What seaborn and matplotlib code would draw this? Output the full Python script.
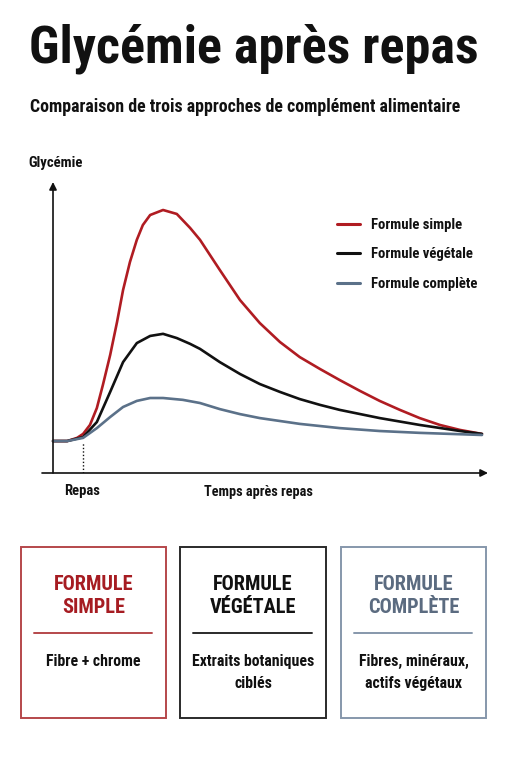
import numpy as np
import pandas as pd
import matplotlib
matplotlib.use("Agg")
import matplotlib.pyplot as plt
from matplotlib import font_manager
from matplotlib.lines import Line2D
from matplotlib.patches import Rectangle
import seaborn as sns

# --- data (arbitrary units, red peak = 100) ---
t_simple = [0, 3.3, 5.6, 7, 8.6, 10.2, 11.6, 13.3, 14.9, 16.3, 17.9, 19.5, 20.9, 22.6, 25.6,
            28.8, 31.9, 34.2, 38.8, 43.5, 48.1, 52.8, 57.4, 62.1, 66.7, 71.4, 76, 80.7, 85.3,
            90, 94.7, 99.8]
g_simple = [12.1, 12.1, 13.3, 14.8, 18.2, 24.6, 33.3, 44.7, 57.2, 69.3, 79.9, 88.3, 93.9, 97.7, 99.6,
            98.1, 92.8, 88.3, 76.9, 65.5, 56.8, 49.6, 43.9, 39.4, 35.2, 31.1, 27.3, 23.9, 20.8,
            18.2, 16.3, 14.8]

t_vegetale = [0, 3.3, 7, 10.2, 13.3, 16.3, 19.5, 22.6, 25.6, 28.8, 31.9, 34.2, 38.8, 43.5,
              48.1, 52.8, 57.4, 62.1, 66.7, 76, 85.3, 94.7, 99.8]
g_vegetale = [12.1, 12.1, 13.6, 19.3, 30.7, 42, 49.2, 51.9, 52.7, 51.1, 48.9, 47, 42, 37.5,
              33.7, 30.7, 28, 25.8, 23.9, 20.8, 18.2, 15.9, 14.8]

t_complete = [0, 3.3, 7, 10.2, 13.3, 16.3, 19.5, 22.6, 25.6, 30.2, 34.2, 38.8, 43.5,
              48.1, 57.4, 66.7, 76, 85.3, 99.8]
g_complete = [12.1, 12.1, 13.3, 17, 21.2, 25, 27.3, 28.4, 28.4, 27.7, 26.5, 24.2, 22.3,
              20.8, 18.6, 17, 15.9, 15.2, 14.4]

series = ["Formule simple", "Formule végétale", "Formule complète"]
colors = ["#b01c22", "#111111", "#5b7189"]
box_colors = ["#b5474b", "#2a2a2a", "#8697ab"]
box_titles = ["FORMULE\nSIMPLE", "FORMULE\nVÉGÉTALE", "FORMULE\nCOMPLÈTE"]
box_bodies = ["Fibre + chrome", "Extraits botaniques\nciblés", "Fibres, minéraux,\nactifs végétaux"]
repas_t = 7

df = pd.concat([
    pd.DataFrame({"t": t_simple, "g": g_simple, "formule": series[0]}),
    pd.DataFrame({"t": t_vegetale, "g": g_vegetale, "formule": series[1]}),
    pd.DataFrame({"t": t_complete, "g": g_complete, "formule": series[2]}),
])

# pick a condensed font if there is one
names = {f.name for f in font_manager.fontManager.ttflist}
font = "DejaVu Sans"
stretch = "condensed"
for cand in ["Roboto Condensed", "Liberation Sans Narrow", "Open Sans Condensed"]:
    if cand in names:
        font = cand
        break

sns.set_theme(style="white")
plt.rcParams["font.family"] = [font, "DejaVu Sans"]

W, H = 511, 768
fig = plt.figure(figsize=(W / 100, H / 100), dpi=100)
fig.patch.set_facecolor("white")


def fx(px):
    return px / W


def fy(py):
    return 1 - py / H


def ftext(px, py, s, **kw):
    kw.setdefault("fontstretch", stretch)
    fig.text(fx(px), fy(py), s, **kw)


ftext(29, 63, "Glycémie après repas", fontsize=37.5, fontweight="bold", color="#111", va="baseline")
ftext(30, 112, "Comparaison de trois approches de complément alimentaire", fontsize=12.9,
      fontweight="bold", color="#111", va="baseline")

# chart axes: x-axis line from px 42 to 488 at py 473, y-axis arrow top at py 182
ax = fig.add_axes([fx(42), fy(473), fx(488) - fx(42), fy(182) - fy(473)])
ax.set_facecolor("white")
sns.lineplot(data=df, x="t", y="g", hue="formule", palette=dict(zip(series, colors)),
             linewidth=1.9, legend=False, ax=ax, sort=False)
for ln in ax.lines:
    ln.set_solid_joinstyle("round")
ax.set_xlim(-2.56, 101.2)
ax.set_ylim(0, 110.2)
for s in ax.spines.values():
    s.set_visible(False)
ax.set_xticks([])
ax.set_yticks([])
ax.set_xlabel("")
ax.set_ylabel("")

arrow = dict(arrowstyle="-|>", color="#111", lw=1.2, mutation_scale=11, shrinkA=0, shrinkB=0)
ax.annotate("", xy=(1, 0), xytext=(0, 0), xycoords="axes fraction", arrowprops=arrow)
ax.annotate("", xy=(0, 1), xytext=(0, 0), xycoords=("data", "axes fraction"),
            textcoords=("data", "axes fraction"), arrowprops=arrow)
ax.plot([repas_t, repas_t], [0, 11.5], ls=(0, (1, 1.5)), color="#111", lw=1)

ftext(28, 167, "Glycémie", fontsize=10.6, fontweight="bold", color="#111", va="baseline")
ftext(82, 495, "Repas", fontsize=10.5, fontweight="bold", color="#111", va="baseline", ha="center")
ftext(258, 496, "Temps après repas", fontsize=10.3, fontweight="bold", color="#111", va="baseline", ha="center")

# legend
for i, (name, c) in enumerate(zip(series, colors)):
    ly = [224, 253, 283][i]
    fig.add_artist(Line2D([fx(337), fx(360)], [fy(ly), fy(ly)], color=c, lw=2.2))
    ftext(371, ly + 1, name, fontsize=10.6, fontweight="bold", color="#111", va="center")

# boxes
box_x = [(21, 166), (180, 326), (341, 486)]
title_cols = ["#a61c22", "#111111", "#5b6b80"]
for (x0, x1), bc, tc, ttl, body in zip(box_x, box_colors, title_cols, box_titles, box_bodies):
    fig.add_artist(Rectangle((fx(x0), fy(718)), fx(x1) - fx(x0), fy(547) - fy(718),
                             fill=False, edgecolor=bc, lw=1.4, transform=fig.transFigure))
    cx = (x0 + x1) / 2
    l1, l2 = ttl.split("\n")
    ftext(cx, 590, l1, fontsize=14.7, fontweight="bold", color=tc, ha="center", va="baseline")
    ftext(cx, 613, l2, fontsize=14.7, fontweight="bold", color=tc, ha="center", va="baseline")
    fig.add_artist(Line2D([fx(x0 + 13), fx(x1 - 14)], [fy(633), fy(633)], color=bc, lw=1.4))
    for j, line in enumerate(body.split("\n")):
        ftext(cx, 666 + 22 * j, line, fontsize=11.4, fontweight="bold", color="#111", ha="center", va="baseline")

fig.savefig("out.png", dpi=100, facecolor="white")
